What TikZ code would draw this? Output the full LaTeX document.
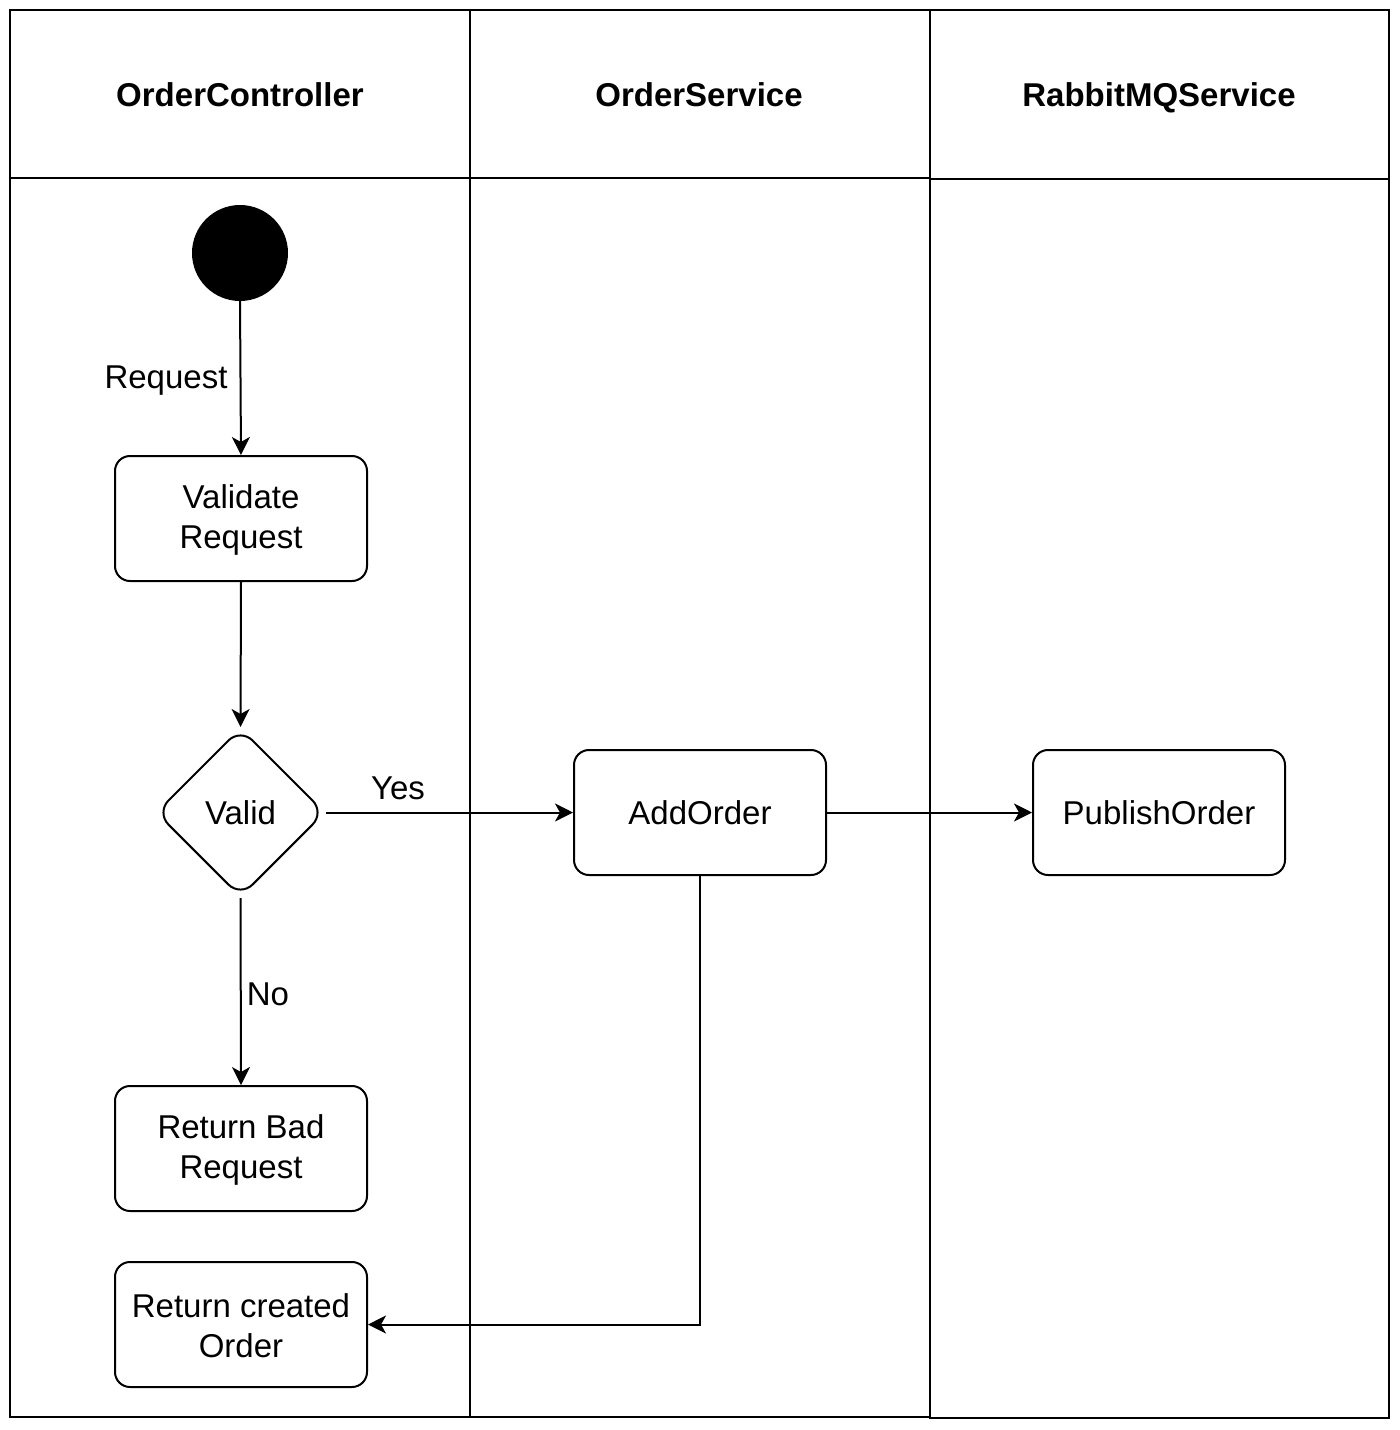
\documentclass[tikz,border=0pt]{standalone}
\usepackage{fontspec}
\setmainfont{Liberation Sans}
\usetikzlibrary{shapes.geometric,arrows.meta}
\begin{document}
\begin{tikzpicture}[x=1pt,y=-1pt,
  lane/.style={draw=black,line width=2pt},
  hdr/.style={font=\fontsize{33}{40}\selectfont\bfseries,anchor=base,inner sep=0pt},
  act/.style={draw=black,line width=2pt,rounded corners=15pt,minimum width=252pt,minimum height=125pt,align=center,inner sep=0pt,font=\fontsize{33}{40}\selectfont},
  dec/.style={draw=black,line width=2pt,shape=diamond,rounded corners=17pt,minimum width=169pt,minimum height=169pt,inner sep=0pt,aspect=1,font=\fontsize{33}{40}\selectfont},
  lbl/.style={font=\fontsize{33}{40}\selectfont,inner sep=0pt,anchor=base},
  flow/.style={draw=black,line width=2pt,-{Stealth[length=18pt,width=18pt,inset=5pt]}}]
\useasboundingbox (0,0) rectangle (1400,1430);
\fill[white] (0,0) rectangle (1400,1430);
% lanes
\draw[lane] (10,10) rectangle (470,1417);
\draw[lane] (10,178) -- (470,178);
\draw[lane] (470,10) rectangle (930,1417);
\draw[lane] (470,178) -- (930,178);
\draw[lane] (930,10) rectangle (1389,1418);
\draw[lane] (930,179) -- (1389,179);
\node[hdr] (h1) at (240,106) {OrderController};
\node[hdr] (h2) at (699,106) {OrderService};
\node[hdr] (h3) at (1159,106) {RabbitMQService};
% nodes
\node[circle,fill=black,minimum size=96pt,inner sep=0pt] (start) at (240,253) {};
\node[act] (val) at (241,518.5) {\rule{0pt}{26pt}Validate\\Request};
\node[dec] (valid) at (240.5,812.5) {Valid};
\node[act] (add) at (700,812.5) {AddOrder};
\node[act] (pub) at (1159,812.5) {PublishOrder};
\node[act] (bad) at (241,1148.5) {\rule{0pt}{26pt}Return Bad\\Request};
\node[act] (ret) at (241,1324.5) {\rule{0pt}{26pt}Return created\\Order};
% connectors
\draw[flow] (start.south) -- (val.north);
\node[lbl] (lreq) at (166,388) {Request};
\draw[flow] (val.south) -- (valid.north);
\draw[flow] (valid.east) -- (add.west);
\node[lbl] (lyes) at (398,799) {Yes};
\draw[flow] (valid.south) -- (bad.north);
\node[lbl] (lno) at (268,1005) {No};
\draw[flow] (add.east) -- (pub.west);
\draw[flow] (add.south) |- (ret.east);
\end{tikzpicture}
\end{document}
